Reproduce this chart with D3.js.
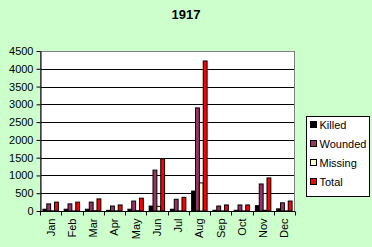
<!DOCTYPE html>
<html>
<head>
<meta charset="utf-8">
<script src="https://cdn.jsdelivr.net/npm/d3@7"></script>
<style>
  body { margin: 0; background: #ccffcc; }
  svg { display: block; font-family: "Liberation Sans", Arial, sans-serif; }
</style>
</head>
<body>
<div id="chart"></div>
<script>
var months = ["Jan","Feb","Mar","Apr","May","Jun","Jul","Aug","Sep","Oct","Nov","Dec"];
var series = ["Killed","Wounded","Missing","Total"];
var killed  = [50, 50, 50, 20, 50, 140, 50, 560, 20, 20, 150, 60];
var wounded = [200, 200, 250, 140, 280, 1150, 330, 2900, 140, 170, 760, 230];
var missing = [5, 5, 10, 5, 10, 130, 5, 790, 5, 5, 20, 5];
var total   = [250, 250, 340, 170, 360, 1470, 385, 4220, 170, 170, 930, 280];
var yTicks = [0, 500, 1000, 1500, 2000, 2500, 3000, 3500, 4000, 4500];

var colors = {"Killed": "#000000", "Wounded": "#993366", "Missing": "#ffffcc", "Total": "#ff0000"};
var values = {"Killed": killed, "Wounded": wounded, "Missing": missing, "Total": total};

var W = 372, H = 247;
var margin = { top: 51, left: 40, right: 77, bottom: 36 },
    width = W - margin.left - margin.right,
    height = H - margin.top - margin.bottom;

var root = d3.select("#chart").append("svg")
    .attr("width", W).attr("height", H);

root.append("rect").attr("width", W).attr("height", H).attr("fill", "#ccffcc");

root.append("text")
    .attr("x", 186).attr("y", 19)
    .attr("text-anchor", "middle")
    .style("font-size", "13px").style("font-weight", "bold")
    .text("1917");

var svg = root.append("g")
    .attr("transform", "translate(" + margin.left + "," + margin.top + ")");

var xScale = d3.scaleBand().domain(months).range([0, width]);
// excel style gap width 150%: 4 bars + 1.5 bar widths of gap per group
var gap = xScale.bandwidth() * 0.75 / 5.5;
var xInner = d3.scaleBand().domain(series).range([gap, xScale.bandwidth() - gap]);
var yScale = d3.scaleLinear().domain([0, 4500]).range([height, 0]);

// plot area
svg.append("rect")
    .attr("width", width).attr("height", height)
    .attr("fill", "white");

// gridlines
svg.selectAll(".grid")
    .data(yTicks.slice(1, -1))
    .enter().append("line")
    .attr("class", "grid")
    .attr("x1", 0).attr("x2", width)
    .attr("y1", function(d) { return Math.round(yScale(d)) + 0.5; })
    .attr("y2", function(d) { return Math.round(yScale(d)) + 0.5; })
    .attr("stroke", "black");

svg.append("rect")
    .attr("x", 0.5).attr("y", 0.5)
    .attr("width", width - 1).attr("height", height)
    .attr("fill", "none").attr("stroke", "#808080");

// bars
var rows = [];
months.forEach(function(m, i) {
  series.forEach(function(s) {
    rows.push({ month: m, series: s, value: values[s][i] });
  });
});

svg.selectAll(".bar")
    .data(rows)
    .enter().append("rect")
    .attr("class", "bar")
    .attr("x", function(d) { return xScale(d.month) + xInner(d.series); })
    .attr("width", xInner.bandwidth())
    .attr("y", function(d) { return yScale(d.value); })
    .attr("height", function(d) { return height - yScale(d.value); })
    .attr("fill", function(d) { return colors[d.series]; })
    .attr("stroke", "black")
    .attr("stroke-width", 1);

// axes
var yAxis = d3.axisLeft(yScale).tickValues(yTicks).tickSize(4).tickSizeOuter(0)
    .tickFormat(d3.format("d"));
var gy = svg.append("g").attr("transform", "translate(0.5,0)").call(yAxis);
gy.select(".domain").attr("stroke", "black");
gy.selectAll("text").style("font-size", "11px").attr("fill", "black").attr("x", -7);

var gx = svg.append("g").attr("transform", "translate(0," + (height + 0.5) + ")");
gx.append("line").attr("x1", 0).attr("x2", width).attr("stroke", "black");
gx.selectAll(".xtick")
    .data(months.concat(["end"]))
    .enter().append("line")
    .attr("x1", function(d, i) { return Math.round(i * xScale.step()) + 0.5; })
    .attr("x2", function(d, i) { return Math.round(i * xScale.step()) + 0.5; })
    .attr("y1", 0).attr("y2", 4)
    .attr("stroke", "black");
gx.selectAll(".xlabel")
    .data(months)
    .enter().append("text")
    .attr("transform", function(d) {
      return "translate(" + (xScale(d) + xScale.bandwidth() / 2 + 4) + ",7) rotate(-90)";
    })
    .attr("text-anchor", "end")
    .style("font-size", "11px")
    .text(function(d) { return d; });

// legend
var legend = root.append("g").attr("transform", "translate(306.5,116.5)");
legend.append("rect")
    .attr("width", 63).attr("height", 80)
    .attr("fill", "white").attr("stroke", "black");
legend.selectAll(".item")
    .data(series)
    .enter().append("g")
    .attr("transform", function(d, i) { return "translate(4," + (5 + i * 19) + ")"; })
    .each(function(d) {
      var g = d3.select(this);
      g.append("rect").attr("width", 6).attr("height", 6)
        .attr("fill", colors[d]).attr("stroke", "black");
      g.append("text").attr("x", 9).attr("y", 7.5)
        .style("font-size", "11px").text(d);
    });
</script>
</body>
</html>
